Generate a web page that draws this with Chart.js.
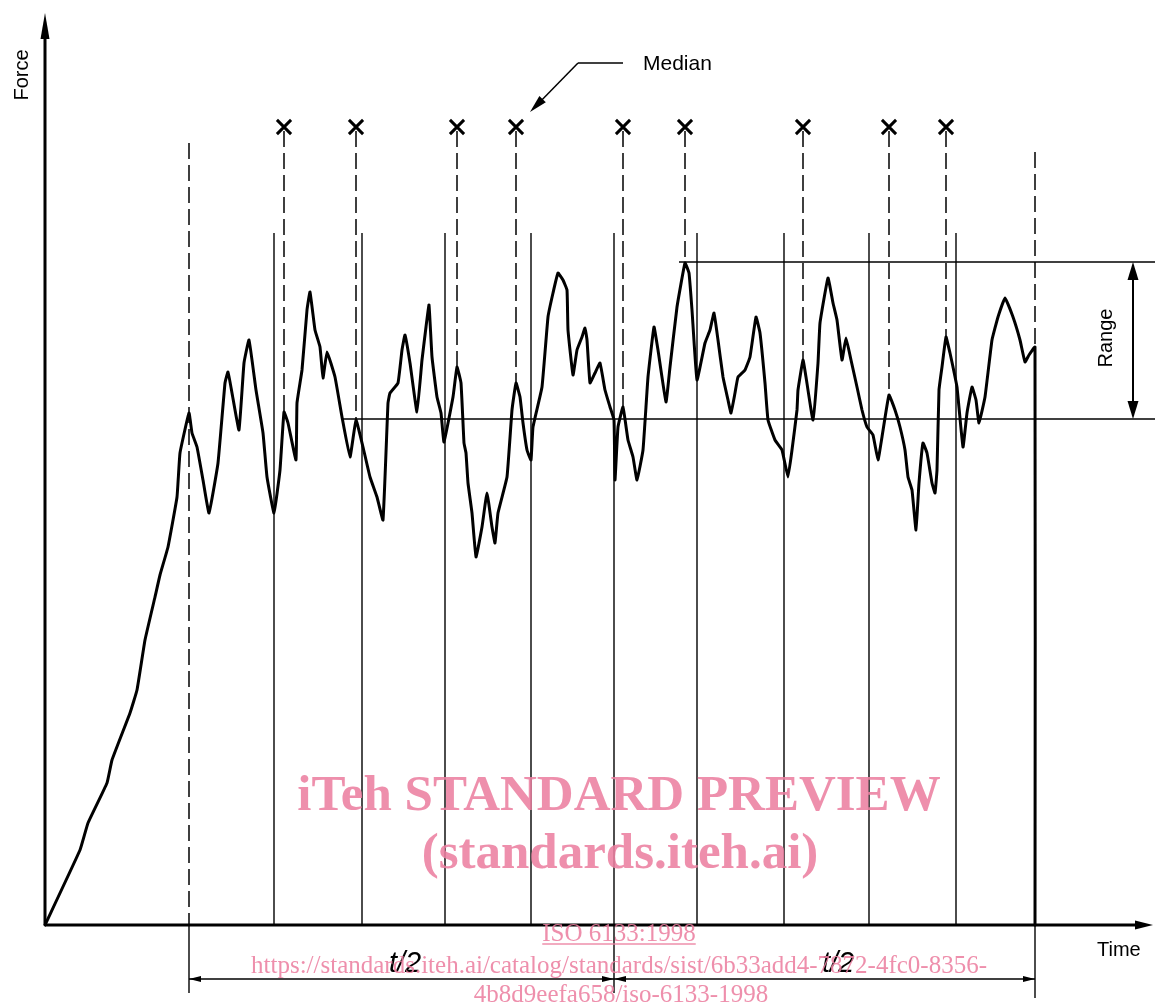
<!DOCTYPE html>
<html><head><meta charset="utf-8">
<script src="https://cdn.jsdelivr.net/npm/chart.js@4.4.1/dist/chart.umd.min.js"></script>
<style>html,body{margin:0;padding:0;background:#fff}#wrap{width:1155px;height:1008px;position:relative}</style>
</head><body><div id="wrap"><canvas id="c"></canvas></div>
<script>
// Force–time record (time and force in arbitrary units)
const time  = [0,35,43,62,67,85,92,100,110,115,123,132,135,144,147,152,158,164,173,180,183,187,194,199,204,211,218,222,229,235,239,243,251,252,257,262,265,270,275,278,282,290,297,305,311,318,325,332,338,343,345,353,357,360,365,372,377,381,384,387,392,396,399,408,412,416,419,421,423,427,431,437,442,447,450,453,462,467,471,475,478,482,486,488,497,503,508,513,518,522,523,528,532,537,540,542,545,550,555,560,565,569,570,573,578,583,588,592,598,603,609,613,621,625,632,640,644,647,652,660,665,669,673,678,683,686,690,693,700,705,711,715,720,723,730,737,743,747,752,753,758,761,768,773,775,783,788,792,797,801,806,812,817,822,828,833,837,844,850,855,860,863,867,871,874,878,882,887,890,892,894,897,901,905,908,912,918,922,927,931,934,940,947,953,960,968,975,980,984,990,990];
const force = [0,75,102,142,165,212,235,285,328,350,378,428,472,512,492,478,445,412,462,542,553,532,495,562,585,535,492,448,412,455,513,502,465,522,555,615,633,595,578,547,573,548,508,468,505,478,448,428,405,522,532,542,575,590,562,513,565,598,620,568,528,512,483,528,558,542,482,472,442,412,368,398,432,398,382,412,448,515,542,528,502,475,465,498,538,608,632,652,645,635,595,550,575,588,597,585,542,552,562,535,518,505,445,498,518,485,468,445,475,548,598,575,523,558,618,662,652,615,545,582,595,612,585,548,525,512,532,548,555,568,608,592,542,505,485,475,448,475,515,535,565,548,505,562,602,647,622,605,565,587,565,538,515,498,490,465,488,530,515,498,475,448,435,395,442,482,472,442,432,455,535,558,588,572,558,538,478,512,538,525,502,528,585,608,627,608,585,563,570,578,0];

// Interval boundaries (solid) and evaluation window (dashed)
const intervalBounds = [229,317,400,486,569,652,739,824,911];
const intervalTop = 692;
const windowStart = 144, windowStartTop = 782;
const windowEnd = 990, windowEndTop = 773, windowEndCurve = 578;
const halfSplit = 569;

// Peaks per interval (marked with ×)
const peakTimes  = [239,311,412,471,578,640,758,844,901];
const peakForces = [513,505,558,542,518,662,565,530,588];
const markerLevel = 798;

// Median and maximum peak levels
const medianForce = 506, medianFrom = 298;
const maxForce = 663, maxFrom = 634;

const labels = {force:'Force', time:'Time', median:'Median', range:'Range', half:'t/2'};
const watermark = ['iTeh STANDARD PREVIEW','(standards.iteh.ai)','ISO 6133:1998',
  'https://standards.iteh.ai/catalog/standards/sist/6b33add4-7872-4fc0-8356-','4b8d9eefa658/iso-6133-1998'];

const X_MIN=-45, X_MAX=1110, Y_MIN=-83, Y_MAX=925;

function arrowHead(ctx, tx, ty, fx, fy, len, hw){
  const a=Math.atan2(ty-fy, tx-fx);
  const bx=tx-len*Math.cos(a), by=ty-len*Math.sin(a);
  const px=-Math.sin(a)*hw, py=Math.cos(a)*hw;
  ctx.beginPath(); ctx.moveTo(tx,ty); ctx.lineTo(bx+px,by+py); ctx.lineTo(bx-px,by-py); ctx.closePath(); ctx.fill();
}
function seg(ctx,x1,y1,x2,y2){ctx.beginPath();ctx.moveTo(x1,y1);ctx.lineTo(x2,y2);ctx.stroke();}

const extras = {
  id:'extras',
  beforeDatasetsDraw(chart){
    const ctx=chart.ctx, xs=chart.scales.x, ys=chart.scales.y;
    const X=v=>xs.getPixelForValue(v), Y=v=>ys.getPixelForValue(v);
    ctx.save(); ctx.strokeStyle='#000'; ctx.fillStyle='#000';
    // solid interval lines
    ctx.lineWidth=1.4;
    intervalBounds.forEach(t=>seg(ctx,X(t),Y(intervalTop),X(t),Y(t===halfSplit?-68:0)));
    seg(ctx,X(windowStart),Y(0),X(windowStart),Y(-68));
    seg(ctx,X(windowEnd),Y(0),X(windowEnd),Y(-73));
    // dashed lines
    ctx.setLineDash([16,6]); ctx.lineWidth=1.5;
    seg(ctx,X(windowStart),Y(windowStartTop),X(windowStart),Y(0));
    seg(ctx,X(windowEnd),Y(windowEndTop),X(windowEnd),Y(windowEndCurve));
    peakTimes.forEach((t,i)=>seg(ctx,X(t),Y(markerLevel-4),X(t),Y(peakForces[i])));
    ctx.setLineDash([]);
    // axes
    ctx.lineWidth=3;
    seg(ctx,X(0),Y(0),X(0),Y(890));
    seg(ctx,X(0),Y(0),X(1090),Y(0));
    arrowHead(ctx,X(0),Y(912),X(0),Y(0),26,4.5);
    arrowHead(ctx,X(1108),Y(0),X(0),Y(0),18,4.5);
    // range arrow
    ctx.lineWidth=2;
    const rx=X(1088);
    seg(ctx,rx,Y(maxForce)+10,rx,Y(medianForce)-10);
    arrowHead(ctx,rx,Y(maxForce),rx,Y(medianForce),18,5.5);
    arrowHead(ctx,rx,Y(medianForce),rx,Y(maxForce),18,5.5);
    // median leader
    ctx.lineWidth=1.5;
    seg(ctx,X(533),Y(862),X(578),Y(862));
    seg(ctx,X(533),Y(862),X(489),Y(817));
    arrowHead(ctx,X(485),Y(813),X(533),Y(862),18,4.5);
    // t/2 dimension arrows
    ctx.lineWidth=1.4;
    const dy=Y(-54);
    seg(ctx,X(windowStart),dy,X(windowEnd),dy);
    arrowHead(ctx,X(windowStart),dy,X(halfSplit),dy,12,3);
    arrowHead(ctx,X(halfSplit),dy,X(windowStart),dy,12,3);
    arrowHead(ctx,X(halfSplit),dy,X(windowEnd),dy,12,3);
    arrowHead(ctx,X(windowEnd),dy,X(halfSplit),dy,12,3);
    // texts
    ctx.font='20px "Liberation Sans", Arial, sans-serif';
    ctx.textBaseline='middle'; ctx.textAlign='center';
    ctx.save(); ctx.translate(X(-23),Y(850)); ctx.rotate(-Math.PI/2); ctx.fillText(labels.force,0,0); ctx.restore();
    ctx.save(); ctx.translate(X(1061),Y(587)); ctx.rotate(-Math.PI/2); ctx.fillText(labels.range,0,0); ctx.restore();
    ctx.textAlign='left';
    ctx.fillText(labels.time,X(1052),Y(-25));
    ctx.font='21px "Liberation Sans", Arial, sans-serif';
    ctx.fillText(labels.median,X(598),Y(861));
    ctx.font='italic 29px "Liberation Sans", Arial, sans-serif';
    ctx.textAlign='center'; ctx.textBaseline='alphabetic';
    ctx.fillText(labels.half,X(360),Y(-47));
    ctx.fillText(labels.half,X(793),Y(-47));
    ctx.restore();
  },
  afterDraw(chart){
    const ctx=chart.ctx, xs=chart.scales.x, ys=chart.scales.y;
    const X=v=>xs.getPixelForValue(v), Y=v=>ys.getPixelForValue(v);
    ctx.save();
    ctx.fillStyle='rgba(236,128,160,0.88)'; ctx.strokeStyle='rgba(236,128,160,0.88)';
    ctx.textAlign='center'; ctx.textBaseline='alphabetic';
    ctx.font='bold 51px "Liberation Serif", "Times New Roman", serif';
    ctx.fillText(watermark[0],X(574),Y(115));
    ctx.fillText(watermark[1],X(575),Y(57));
    ctx.font='25px "Liberation Serif", "Times New Roman", serif';
    ctx.fillText(watermark[2],X(574),Y(-16));
    const w=ctx.measureText(watermark[2]).width;
    ctx.lineWidth=1.3; seg(ctx,X(574)-w/2,Y(-19),X(574)+w/2,Y(-19));
    ctx.fillText(watermark[3],X(574),Y(-48));
    ctx.fillText(watermark[4],X(576),Y(-77));
    ctx.restore();
  }
};

const curvePts = time.map((t,i)=>({x:t,y:force[i]}));
new Chart(document.getElementById('c'),{
  type:'line',
  data:{datasets:[
    {data:curvePts,borderColor:'#000',borderWidth:3,pointRadius:0,tension:0.1,borderJoinStyle:'round',borderCapStyle:'round'},
    {type:'scatter',data:peakTimes.map(t=>({x:t,y:markerLevel})),pointStyle:'crossRot',pointRadius:10,borderWidth:3,borderColor:'#000',backgroundColor:'#000',showLine:false},
    {data:[{x:medianFrom,y:medianForce},{x:X_MAX,y:medianForce}],borderColor:'#000',borderWidth:1.4,pointRadius:0},
    {data:[{x:maxFrom,y:maxForce},{x:X_MAX,y:maxForce}],borderColor:'#000',borderWidth:1.4,pointRadius:0}
  ]},
  options:{
    responsive:true,maintainAspectRatio:false,animation:false,
    layout:{padding:0,autoPadding:false},
    scales:{x:{type:'linear',min:X_MIN,max:X_MAX,display:false},y:{type:'linear',min:Y_MIN,max:Y_MAX,display:false}},
    plugins:{legend:{display:false},tooltip:{enabled:false}},
    events:[]
  },
  plugins:[extras]
});
</script></body></html>
